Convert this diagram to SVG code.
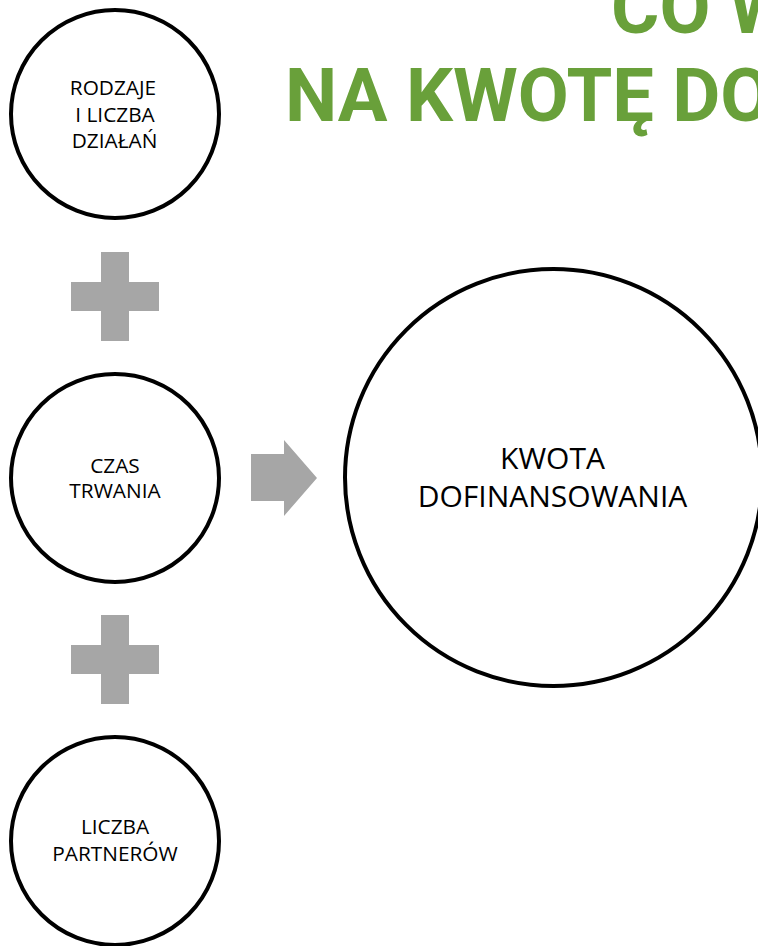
<svg xmlns="http://www.w3.org/2000/svg" width="758" height="946" viewBox="0 0 758 946">
<style>
.node{fill:#fff;stroke:#000;stroke-width:4}
.lbl{font-family:"Open Sans","Liberation Sans",sans-serif;font-size:20.8px;fill:#000;text-anchor:middle}
.big{font-size:30px}
.title{font-family:Roboto,"Open Sans",sans-serif;font-weight:bold;font-size:74px;fill:#69A03A}
.sym{fill:#A6A6A6}
</style>
<rect width="758" height="946" fill="#fff"/>
<g id="title">
<text class="title" x="611" y="33">CO W</text>
<text class="title" x="285" y="121">NA KWOTĘ DO</text>
</g>
<g id="connectors">
<path class="sym" d="M101 252H129V282H159V311H129V341H101V311H71V282H101Z"/>
<path class="sym" d="M101 615H129V645H159V674H129V704H101V674H71V645H101Z"/>
<path class="sym" d="M251 454H284V440L317 478L284 516V501H251Z"/>
</g>
<g id="node-rodzaje">
<circle class="node" cx="115" cy="114" r="104"/>
<text class="lbl" x="113" y="95">RODZAJE</text>
<text class="lbl" x="115" y="121.5">I LICZBA</text>
<text class="lbl" x="114.5" y="148">DZIAŁAŃ</text>
</g>
<g id="node-czas">
<circle class="node" cx="115" cy="478" r="104"/>
<text class="lbl" x="115" y="473">CZAS</text>
<text class="lbl" x="115" y="498">TRWANIA</text>
</g>
<g id="node-partnerzy">
<circle class="node" cx="115" cy="841" r="104"/>
<text class="lbl" x="115" y="834">LICZBA</text>
<text class="lbl" x="115" y="861">PARTNERÓW</text>
</g>
<g id="node-kwota">
<circle class="node" cx="553.5" cy="477.5" r="208.5"/>
<text class="lbl big" x="552.5" y="469">KWOTA</text>
<text class="lbl big" x="552.5" y="507">DOFINANSOWANIA</text>
</g>
</svg>
